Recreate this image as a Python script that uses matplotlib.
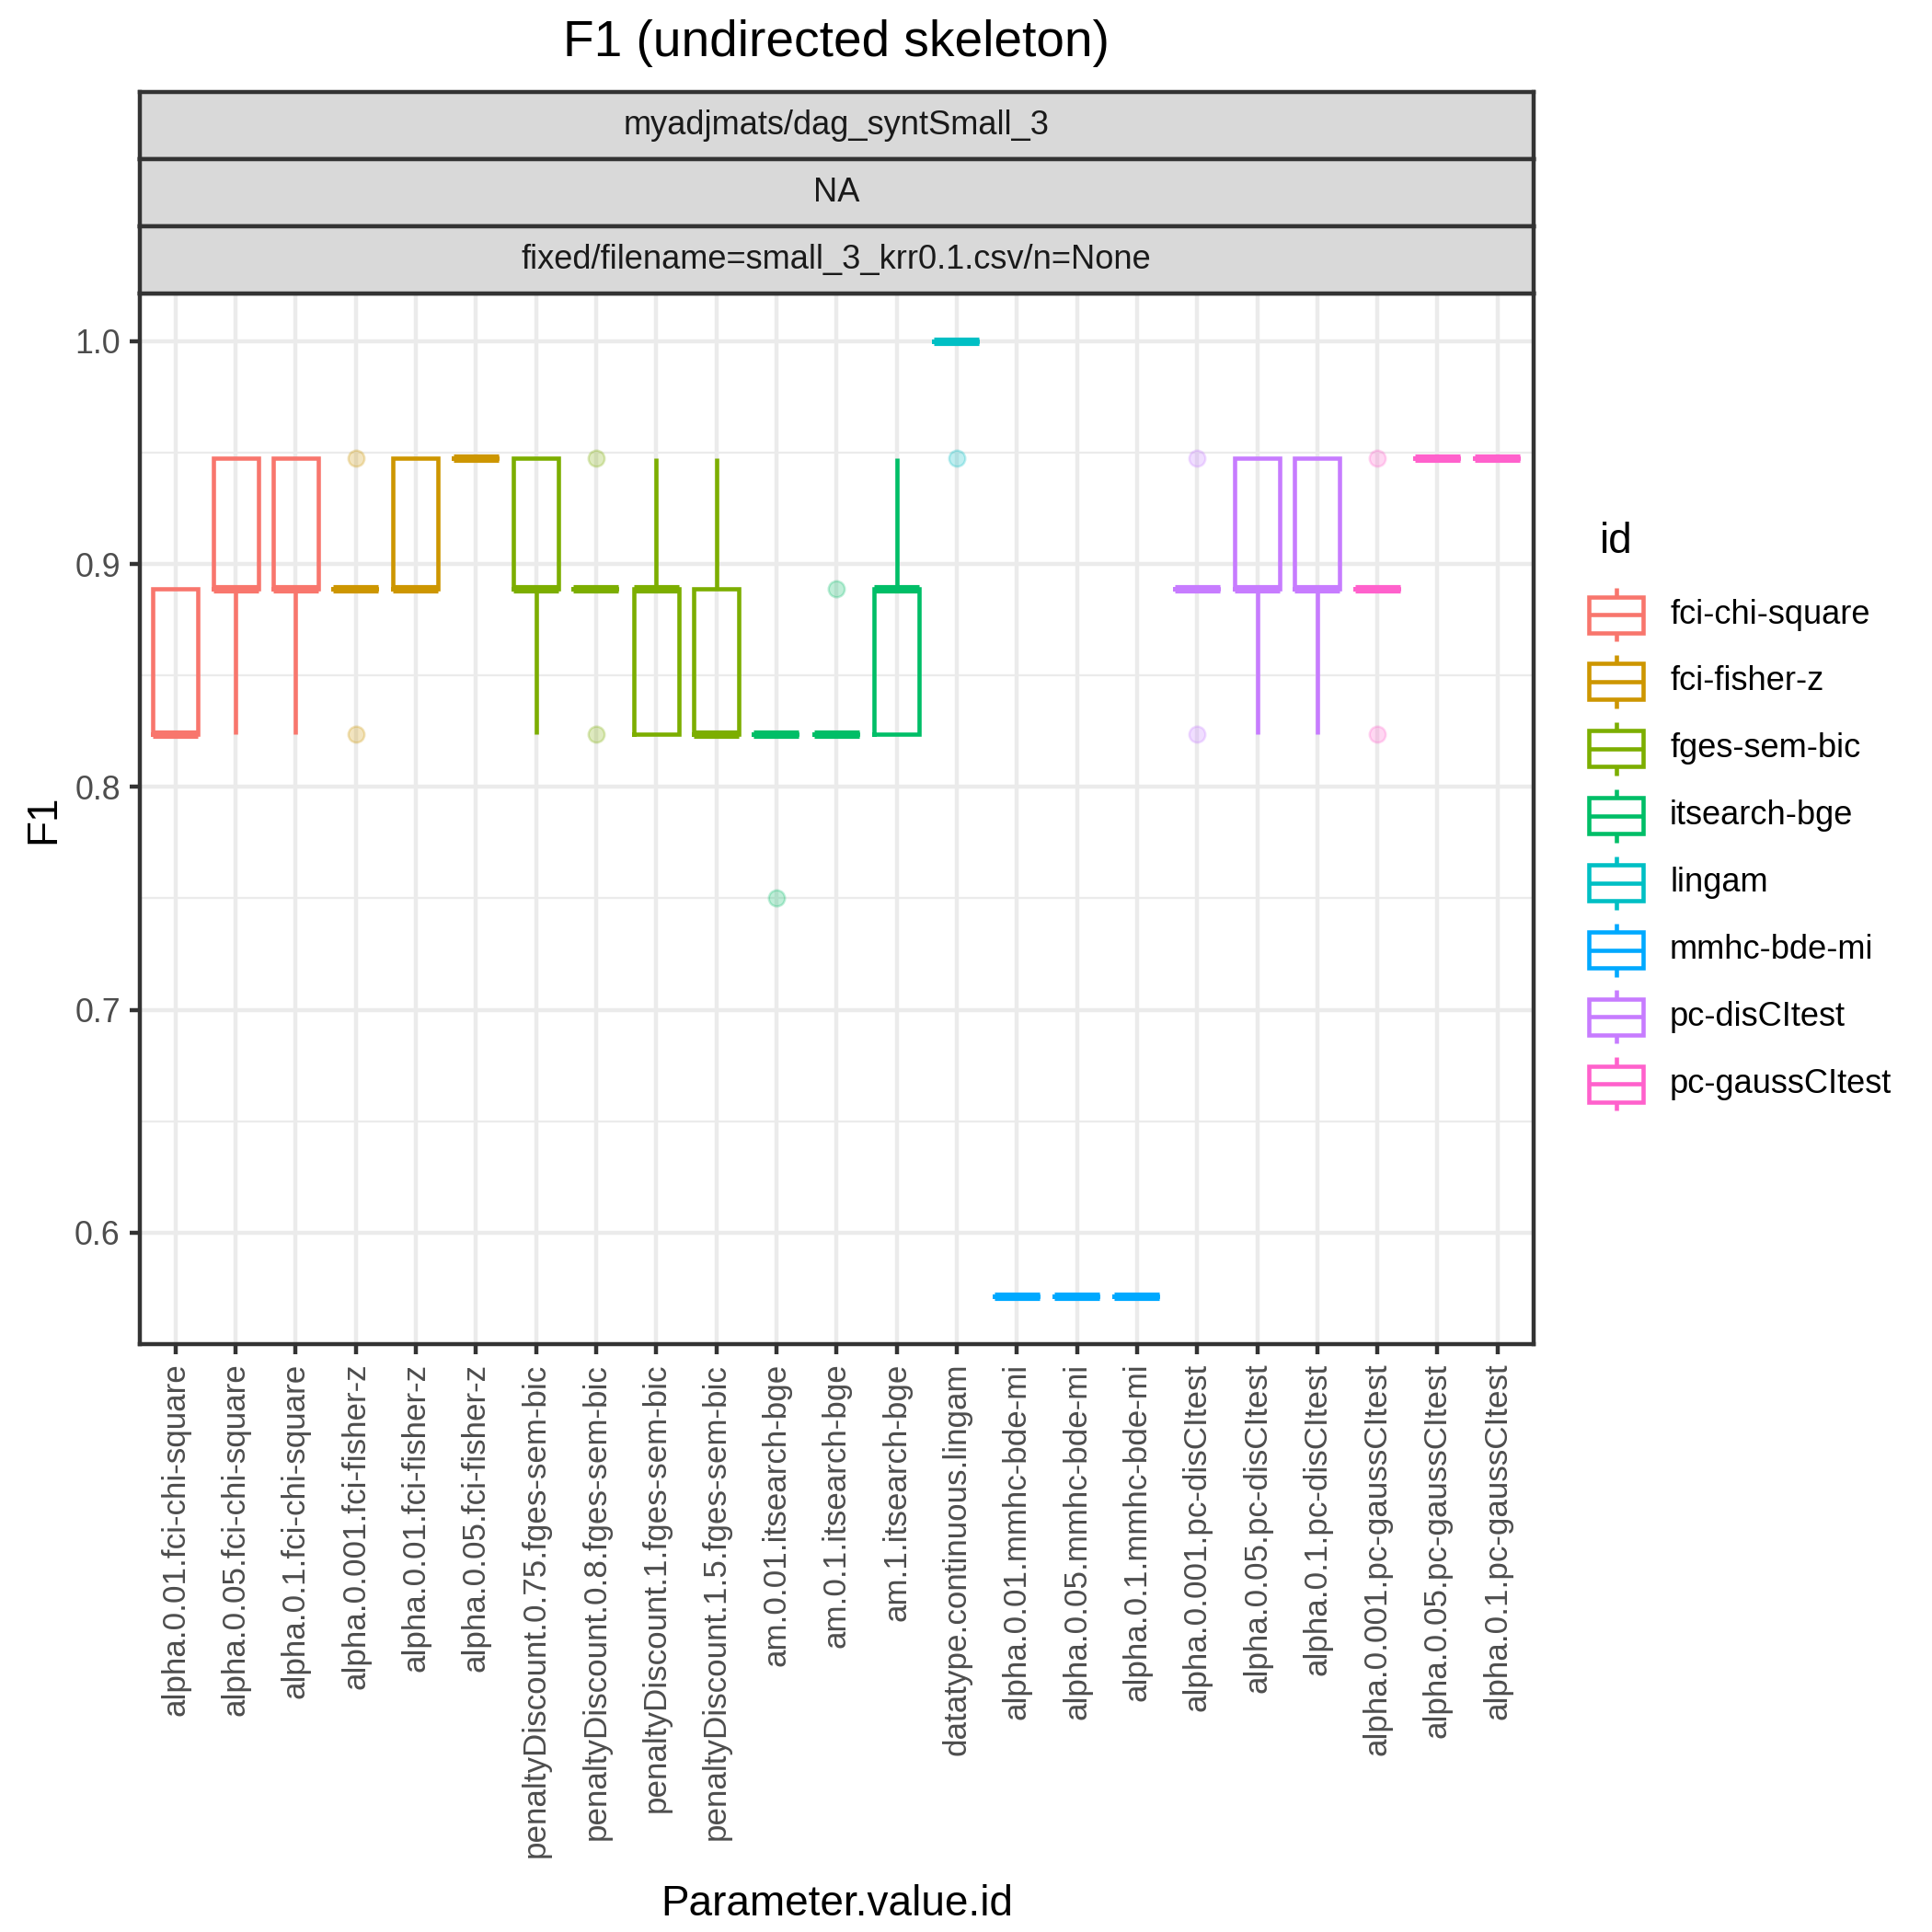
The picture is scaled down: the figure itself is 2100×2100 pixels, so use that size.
import matplotlib
matplotlib.use("Agg")
import matplotlib.pyplot as plt
from matplotlib.patches import Rectangle
from matplotlib.ticker import MultipleLocator, FixedLocator

plt.rcParams['font.family'] = ['Liberation Sans', 'DejaVu Sans']

# one box per Parameter.value.id
categories = [
    "alpha.0.01.fci-chi-square", "alpha.0.05.fci-chi-square", "alpha.0.1.fci-chi-square",
    "alpha.0.001.fci-fisher-z", "alpha.0.01.fci-fisher-z", "alpha.0.05.fci-fisher-z",
    "penaltyDiscount.0.75.fges-sem-bic", "penaltyDiscount.0.8.fges-sem-bic",
    "penaltyDiscount.1.fges-sem-bic", "penaltyDiscount.1.5.fges-sem-bic",
    "am.0.01.itsearch-bge", "am.0.1.itsearch-bge", "am.1.itsearch-bge",
    "datatype.continuous.lingam",
    "alpha.0.01.mmhc-bde-mi", "alpha.0.05.mmhc-bde-mi", "alpha.0.1.mmhc-bde-mi",
    "alpha.0.001.pc-disCItest", "alpha.0.05.pc-disCItest", "alpha.0.1.pc-disCItest",
    "alpha.0.001.pc-gaussCItest", "alpha.0.05.pc-gaussCItest", "alpha.0.1.pc-gaussCItest",
]
group_id = [0, 0, 0, 1, 1, 1, 2, 2, 2, 2, 3, 3, 3, 4, 5, 5, 5, 6, 6, 6, 7, 7, 7]

whislo = [0.8235, 0.8235, 0.8235, 0.8889, 0.8889, 0.9474, 0.8235, 0.8889, 0.8235, 0.8235,
          0.8235, 0.8235, 0.8235, 1.0, 0.5714, 0.5714, 0.5714, 0.8889, 0.8235, 0.8235,
          0.8889, 0.9474, 0.9474]
q1 = [0.8235, 0.8889, 0.8889, 0.8889, 0.8889, 0.9474, 0.8889, 0.8889, 0.8235, 0.8235,
      0.8235, 0.8235, 0.8235, 1.0, 0.5714, 0.5714, 0.5714, 0.8889, 0.8889, 0.8889,
      0.8889, 0.9474, 0.9474]
med = [0.8235, 0.8889, 0.8889, 0.8889, 0.8889, 0.9474, 0.8889, 0.8889, 0.8889, 0.8235,
       0.8235, 0.8235, 0.8889, 1.0, 0.5714, 0.5714, 0.5714, 0.8889, 0.8889, 0.8889,
       0.8889, 0.9474, 0.9474]
q3 = [0.8889, 0.9474, 0.9474, 0.8889, 0.9474, 0.9474, 0.9474, 0.8889, 0.8889, 0.8889,
      0.8235, 0.8235, 0.8889, 1.0, 0.5714, 0.5714, 0.5714, 0.8889, 0.9474, 0.9474,
      0.8889, 0.9474, 0.9474]
whishi = [0.8889, 0.9474, 0.9474, 0.8889, 0.9474, 0.9474, 0.9474, 0.8889, 0.9474, 0.9474,
          0.8235, 0.8235, 0.9474, 1.0, 0.5714, 0.5714, 0.5714, 0.8889, 0.9474, 0.9474,
          0.8889, 0.9474, 0.9474]
fliers = [[], [], [], [0.8235, 0.9474], [], [], [], [0.8235, 0.9474], [], [],
          [0.75], [0.8889], [], [0.9474], [], [], [], [0.8235, 0.9474], [], [],
          [0.8235, 0.9474], [], []]

methods = ["fci-chi-square", "fci-fisher-z", "fges-sem-bic", "itsearch-bge",
           "lingam", "mmhc-bde-mi", "pc-disCItest", "pc-gaussCItest"]
method_colors = ["#F8766D", "#CD9600", "#7CAE00", "#00BE67",
                 "#00BFC4", "#00A9FF", "#C77CFF", "#FF61CC"]

strip_labels = ["myadjmats/dag_syntSmall_3", "NA", "fixed/filename=small_3_krr0.1.csv/n=None"]

W = 2100.0
fig = plt.figure(figsize=(7, 7), dpi=300)

# panel box in pixel units (top-left origin)
pl, pr, pt, pb = 151.5, 1667.0, 319.0, 1461.0
ax = fig.add_axes([pl / W, 1 - pb / W, (pr - pl) / W, (pb - pt) / W])

lw_box = 1.1
for i, name in enumerate(categories):
    col = method_colors[group_id[i]]
    stats = [dict(whislo=whislo[i], q1=q1[i], med=med[i], q3=q3[i],
                  whishi=whishi[i], fliers=fliers[i], label=name)]
    ax.bxp(stats, positions=[i + 1], widths=0.75, showcaps=False,
           boxprops=dict(color=col, linewidth=lw_box, solid_joinstyle='miter'),
           whiskerprops=dict(color=col, linewidth=lw_box, solid_capstyle='butt'),
           medianprops=dict(color=col, linewidth=lw_box * 2, solid_capstyle='butt'),
           flierprops=dict(marker='o', markerfacecolor=col, markeredgecolor=col,
                           markersize=4.2, alpha=0.25, markeredgewidth=0.6))

ax.set_xlim(0.4, len(categories) + 0.6)
ax.set_ylim(0.55, 1.0214)
ax.xaxis.set_major_locator(FixedLocator(range(1, len(categories) + 1)))
ax.set_xticklabels(categories, rotation=90, fontsize=8.4, color='#4D4D4D', va='top', ha='center')
ax.yaxis.set_major_locator(MultipleLocator(0.1))
ax.yaxis.set_minor_locator(FixedLocator([0.65, 0.75, 0.85, 0.95]))
ax.yaxis.set_major_formatter(plt.FuncFormatter(lambda v, p: f"{v:.1f}"))
for lab in ax.get_yticklabels():
    lab.set_fontsize(8.6)
    lab.set_color('#4D4D4D')
ax.tick_params(axis='both', which='major', length=2.75, width=1.07, color='#333333', pad=2.2)
ax.tick_params(axis='y', which='minor', length=0)
ax.grid(True, which='major', color='#EBEBEB', linewidth=1.07)
ax.grid(True, which='minor', axis='y', color='#EBEBEB', linewidth=0.53)
ax.set_axisbelow(True)
for sp in ax.spines.values():
    sp.set_color('#333333')
    sp.set_linewidth(1.07)

# facet strips
strip_edges = [100.0, 173.0, 246.0, 319.0]
for k, txt in enumerate(strip_labels):
    top, bot = strip_edges[k], strip_edges[k + 1]
    sax = fig.add_axes([pl / W, 1 - bot / W, (pr - pl) / W, (bot - top) / W])
    sax.set_facecolor('#D9D9D9')
    sax.set_xticks([])
    sax.set_yticks([])
    for sp in sax.spines.values():
        sp.set_color('#333333')
        sp.set_linewidth(1.07)
    sax.text(0.5, 0.5, txt, transform=sax.transAxes, ha='center', va='center',
             fontsize=8.7, color='#1A1A1A')

# titles
fig.text((pl + pr) / 2 / W, 1 - 47 / W, "F1 (undirected skeleton)", ha='center', va='center', fontsize=13.2)
fig.text(47 / W, 1 - (pt + pb) / 2 / W, "F1", rotation=90, ha='center', va='center', fontsize=11)
fig.text((pl + pr) / 2 / W, 1 - 2070 / W, "Parameter.value.id", ha='center', va='center', fontsize=11)

# legend drawn in pixel space
lax = fig.add_axes([0, 0, 1, 1], facecolor='none')
lax.set_xlim(0, W)
lax.set_ylim(W, 0)
lax.axis('off')
lax.text(1739, 589, "id", ha='left', va='center', fontsize=11)
kx0, kx1, kcx = 1727, 1786, 1756.5
for k, (m, col) in enumerate(zip(methods, method_colors)):
    cy = 668 + k * 72.9
    lax.add_patch(Rectangle((kx0, cy - 19.5), kx1 - kx0, 39, fill=False, edgecolor=col,
                            linewidth=lw_box, joinstyle='miter'))
    lax.plot([kx0, kx1], [cy, cy], color=col, linewidth=lw_box, solid_capstyle='butt')
    lax.plot([kcx, kcx], [cy - 29, cy - 19.5], color=col, linewidth=lw_box, solid_capstyle='butt')
    lax.plot([kcx, kcx], [cy + 19.5, cy + 29], color=col, linewidth=lw_box, solid_capstyle='butt')
    lax.text(1815, cy, m, ha='left', va='center', fontsize=8.7)

fig.savefig("out.png", dpi=300)
